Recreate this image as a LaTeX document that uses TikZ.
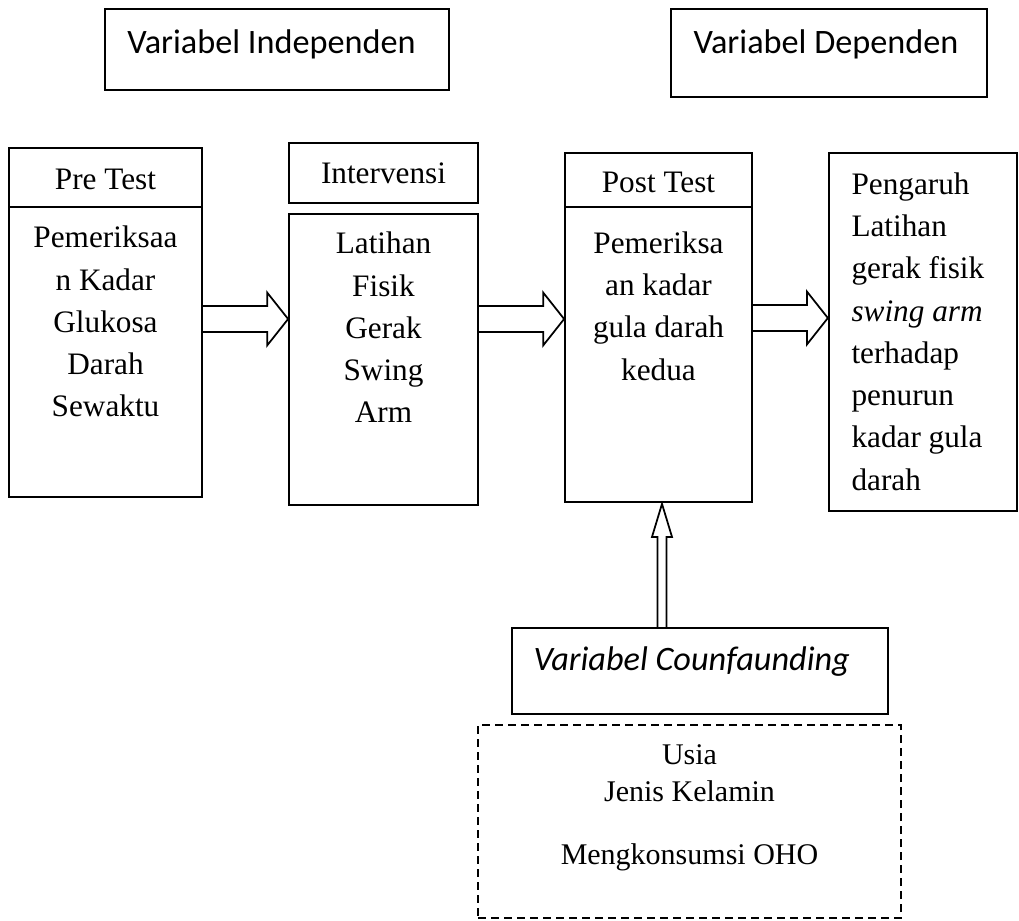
\documentclass[tikz,border=0pt]{standalone}
\usepackage{fontspec}
\setmainfont{Liberation Serif}
\newfontfamily\calibri{Carlito}
\usetikzlibrary{positioning,calc,fit}
\tikzset{
  frame/.style={draw, line width=0.7pt, inner sep=0pt},
  bodytxt/.style={inner sep=0pt, align=#1, font=\fontsize{12.5}{16.9}\selectfont},
  bodytxt/.default=center,
  vartxt/.style={inner sep=0pt, font=\calibri\fontsize{13.7}{16}\selectfont},
  blk/.style={draw, line width=0.7pt, line join=miter}
}

\begin{document}
\begin{tikzpicture}[x=0.4pt, y=-0.4pt]
    \useasboundingbox (0,0) rectangle (1019,920);
    % variable labels
    \node[frame, fit={(105,9) (449,90)}] (indep) {};
    \node[vartxt, anchor=base] (indeptxt) at (271.5,53) {Variabel Independen};
    \node[frame, fit={(671,9) (987,97)}] (dep) {};
    \node[vartxt, anchor=base] (deptxt) at (826,53) {Variabel Dependen};
    % flow boxes
    \node[frame, fit={(9,148) (202,207)}] (prehead) {};
    \node[bodytxt, anchor=base] (prehtxt) at (105.5,189) {Pre Test};
    \node[frame, fit={(9,207) (202,497)}] (prebody) {};
    \node[bodytxt, anchor=north] (pretxt) at (105.5,225.7) {Pemeriksaa\\n Kadar\\Glukosa\\Darah\\Sewaktu};
    \node[frame, fit={(289,143) (478,203)}] (inthead) {};
    \node[bodytxt, anchor=base] (inthtxt) at (383.5,183) {Intervensi};
    \node[frame, fit={(289,214) (478,505)}] (intbody) {};
    \node[bodytxt, anchor=north] (inttxt) at (383.5,231.7) {Latihan\\Fisik\\Gerak\\Swing\\Arm};
    \node[frame, fit={(565,153) (752,207)}] (posthead) {};
    \node[bodytxt, anchor=base] (posthtxt) at (658.5,192) {Post Test};
    \node[frame, fit={(565,207) (752,502)}] (postbody) {};
    \node[bodytxt, anchor=north] (posttxt) at (658.5,231.2) {Pemeriksa\\an kadar\\gula darah\\kedua};
    \node[frame, line width=0.9pt, fit={(829,153) (1017,511)}] (res) {};
    \node[bodytxt=left, anchor=north west] (restxt) at (851,172.2) {Pengaruh\\Latihan\\gerak fisik\\\textit{swing arm}\\terhadap\\penurun\\kadar gula\\darah};
    % confounding
    \node[frame, fit={(512,628) (888,714)}] (conf) {};
    \node[vartxt, anchor=base west] (conftxt) at (533,670) {\itshape Variabel Counfaunding};
    \node[frame, dash pattern=on 3.2pt off 2pt, fit={(478,725) (901,918)}] (others) {};
    \node[inner sep=0pt, align=center, font=\fontsize{12}{14.8}\selectfont, anchor=north] (otherstxt) at (689.5,744.5) {Usia\\Jenis Kelamin\\[10.4pt]Mengkonsumsi OHO};
    % block arrows
    \foreach \a/\b/\y in {prebody/intbody/319, intbody/postbody/319, postbody/res/318}
      \draw[blk] ($(\a.east |- 0,\y)+(0,-13)$) -- ($(\b.west |- 0,\y)+(-21,-13)$) -- ++(0,-13.5) -- (\b.west |- 0,\y) -- ($(\b.west |- 0,\y)+(-21,26.5)$) -- ++(0,-13.5) -- ($(\a.east |- 0,\y)+(0,13)$);
    \coordinate (uptip) at ($(postbody.south)+(3.5,1)$);
    \draw[blk] ($(uptip |- conf.north)+(-4.5,0)$) -- ($(uptip)+(-4.5,33)$) -- ++(-5.5,0) -- (uptip) -- ($(uptip)+(10,33)$) -- ++(-5.5,0) -- ($(uptip |- conf.north)+(4.5,0)$);
\end{tikzpicture}
\end{document}
